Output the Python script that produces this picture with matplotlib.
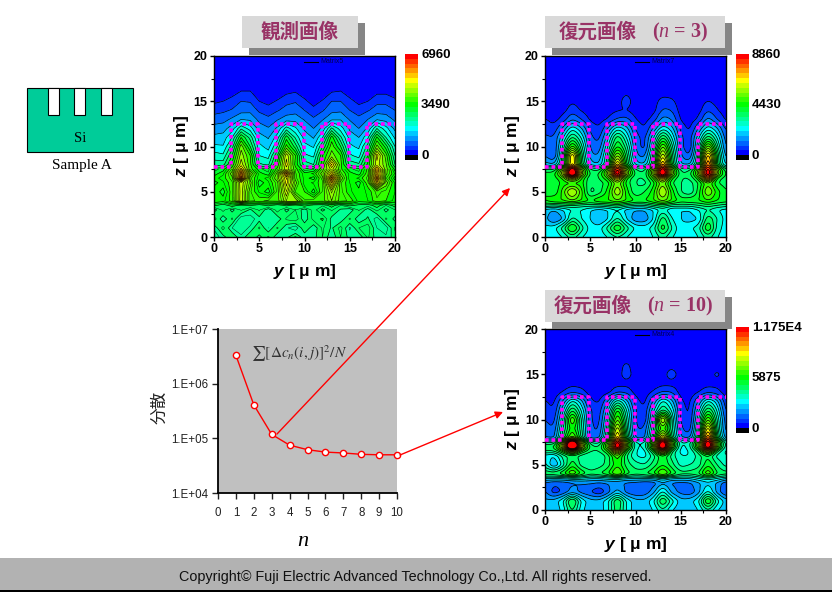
import numpy as np
import matplotlib
matplotlib.use('Agg')
import matplotlib.pyplot as plt
from matplotlib.colors import ListedColormap, BoundaryNorm
from matplotlib.patches import Rectangle

plt.rcParams['font.family'] = ['Liberation Sans', 'DejaVu Sans']
plt.rcParams['mathtext.fontset'] = 'custom'
plt.rcParams['mathtext.bfit'] = 'Liberation Sans:italic:bold'
plt.rcParams['mathtext.it'] = 'Liberation Serif:italic'
plt.rcParams['mathtext.rm'] = 'Liberation Serif'

W, H = 832, 592

# grid of the maps, values below are colour bands (0 black .. 21 red)
y_grid = list(range(21))
z_grid = [20, 17, 16, 15, 14, 13, 12, 11, 10, 9, 8, 7.5, 7, 6.5, 6, 5, 4, 3.5, 3, 2, 1, 0]

observed = [
    [1.1, 1.2, 1.1, 1.2, 1.1, 1.2, 1.1, 1.2, 1.1, 1.2, 1.1, 1.2, 1.1, 1.2, 1.1, 1.2, 1.1, 1.2, 1.1, 1.2, 1.1],
    [1.1, 1.1, 1.2, 1.3, 1.3, 1.1, 1.1, 1.1, 1.2, 1.2, 1.1, 1.1, 1.1, 1.2, 1.3, 1.1, 1.1, 1.1, 1.2, 1.2, 1.1],
    [1.1, 1.2, 1.6, 2.1, 2.1, 1.4, 1.2, 1.4, 1.8, 2.0, 1.5, 1.2, 1.4, 2.0, 2.1, 1.5, 1.2, 1.3, 1.8, 1.8, 1.4],
    [1.8, 2.0, 2.4, 3.0, 2.9, 2.0, 1.7, 2.1, 2.7, 2.9, 2.2, 1.6, 2.1, 3.0, 3.0, 2.3, 1.7, 2.0, 2.7, 2.7, 2.3],
    [2.6, 2.8, 3.1, 3.6, 3.7, 2.8, 2.4, 2.9, 3.4, 3.6, 3.0, 2.3, 2.9, 3.7, 3.8, 3.0, 2.5, 2.9, 3.5, 3.5, 3.0],
    [3.5, 3.6, 4.2, 5.0, 4.8, 3.7, 3.3, 3.9, 4.5, 4.6, 3.9, 3.2, 3.9, 4.8, 4.9, 3.9, 3.3, 4.0, 4.9, 4.6, 3.8],
    [4.4, 4.6, 5.5, 7.8, 6.5, 4.5, 4.1, 5.2, 7.5, 6.2, 4.8, 4.0, 5.3, 8.2, 6.5, 4.8, 4.0, 5.2, 8.0, 6.4, 4.7],
    [5.3, 5.4, 7.0, 11.0, 8.6, 5.5, 4.9, 6.5, 10.6, 7.8, 5.6, 4.9, 7.0, 11.5, 8.2, 5.6, 5.0, 6.8, 11.2, 8.0, 5.8],
    [6.2, 6.1, 8.5, 13.6, 10.0, 6.3, 5.6, 8.0, 12.4, 9.5, 6.3, 5.9, 9.0, 12.6, 10.0, 6.2, 5.8, 8.5, 13.4, 10.5, 7.0],
    [7.5, 7.2, 10.0, 14.6, 12.0, 7.0, 6.6, 10.0, 15.7, 12.0, 7.2, 6.8, 11.0, 13.5, 12.0, 7.2, 6.6, 10.0, 16.5, 12.5, 8.0],
    [8.5, 8.6, 11.3, 15.6, 12.3, 8.2, 7.8, 11.3, 16.5, 11.6, 8.5, 8.0, 11.7, 17.2, 12.3, 8.6, 8.2, 11.3, 15.6, 13.2, 9.0],
    [10.3, 10.7, 12.6, 17.4, 12.4, 10.6, 10.3, 12.3, 15.6, 12.4, 10.2, 10.4, 12.7, 15.4, 12.2, 10.6, 10.3, 12.2, 18.0, 13.4, 10.7],
    [10.7, 11.4, 13.4, 18.6, 13.6, 11.3, 10.6, 13.3, 18.2, 12.6, 11.2, 11.6, 13.4, 16.5, 12.7, 11.3, 10.7, 12.4, 17.4, 13.2, 11.4],
    [11.3, 11.7, 12.8, 19.4, 12.7, 11.2, 11.7, 13.6, 16.6, 12.7, 11.3, 10.7, 12.8, 18.5, 13.6, 11.2, 11.6, 12.7, 18.4, 12.6, 10.7],
    [10.7, 11.4, 12.4, 15.5, 13.3, 10.6, 11.4, 12.8, 16.3, 13.3, 11.2, 11.6, 12.4, 17.0, 12.6, 11.5, 10.7, 12.4, 17.0, 13.4, 11.4],
    [11.5, 10.7, 12.4, 15.4, 12.6, 11.4, 10.7, 12.7, 15.5, 12.4, 12.0, 10.7, 12.6, 14.6, 12.7, 11.6, 11.2, 11.6, 12.7, 12.3, 11.5],
    [11.5, 11.3, 12.3, 15.5, 12.6, 12.4, 12.6, 12.7, 14.5, 14.5, 12.6, 12.8, 12.7, 14.0, 12.7, 12.4, 11.3, 11.5, 12.4, 12.0, 11.3],
    [10.2, 9.6, 10.4, 9.8, 10.1, 9.6, 10.2, 9.6, 10.2, 9.7, 10.3, 9.7, 9.6, 10.3, 9.5, 10.2, 9.8, 9.7, 10.3, 9.5, 10.3],
    [8.7, 9.7, 8.8, 9.6, 8.9, 9.6, 8.6, 9.8, 8.8, 9.5, 8.7, 9.8, 8.8, 9.6, 8.9, 8.6, 9.6, 8.7, 9.7, 8.8, 9.5],
    [9.8, 8.6, 9.6, 8.1, 8.2, 8.8, 8.6, 8.6, 9.6, 9.9, 8.6, 9.7, 10.1, 8.8, 8.6, 9.6, 8.6, 9.1, 8.2, 9.6, 8.8],
    [8.6, 9.7, 8.5, 8.2, 8.6, 9.6, 8.5, 9.6, 8.6, 8.1, 9.5, 8.6, 9.6, 8.9, 9.7, 8.4, 9.5, 9.8, 8.5, 8.2, 9.6],
    [8.1, 8.8, 9.5, 8.6, 9.5, 8.8, 9.6, 8.6, 8.8, 9.6, 8.6, 8.8, 9.5, 8.6, 9.5, 8.8, 8.6, 9.6, 8.7, 8.6, 9.3],
]

restored_3 = [
    [1.2] * 21,
    [1.2] * 21,
    [1.3, 1.3, 1.3, 1.3, 1.3, 1.3, 1.3, 1.3, 1.4, 1.9, 1.3, 1.3, 1.3, 1.5, 1.4, 1.3, 1.3, 1.3, 1.4, 1.3, 1.3],
    [1.3, 1.3, 1.3, 1.9, 1.5, 1.3, 1.3, 1.3, 1.5, 2.6, 1.4, 1.3, 1.5, 2.5, 2.3, 1.3, 1.3, 1.4, 2.1, 1.6, 1.3],
    [1.4, 1.4, 1.6, 2.6, 1.9, 1.4, 1.3, 1.5, 1.9, 2.0, 1.5, 1.4, 1.6, 3.2, 3.0, 1.5, 1.3, 1.6, 3.0, 2.1, 1.4],
    [2.1, 1.6, 2.4, 4.0, 3.0, 1.8, 1.6, 2.1, 3.2, 3.4, 2.0, 1.6, 2.4, 4.5, 4.0, 1.8, 1.5, 2.2, 4.5, 3.0, 1.8],
    [2.6, 2.3, 4.2, 6.8, 5.2, 2.6, 2.0, 4.2, 6.8, 5.5, 2.8, 1.9, 4.2, 6.8, 5.5, 2.6, 1.7, 4.2, 6.8, 5.2, 2.6],
    [3.2, 3.0, 5.8, 9.5, 7.0, 3.2, 2.6, 5.8, 10.0, 7.0, 3.5, 2.5, 5.8, 10.5, 7.0, 3.2, 2.3, 5.8, 10.0, 7.0, 3.2],
    [3.8, 2.8, 7.2, 13.0, 8.5, 3.6, 3.2, 7.2, 11.5, 8.5, 3.8, 2.4, 7.2, 14.0, 8.5, 3.4, 1.9, 7.2, 14.5, 8.5, 3.5],
    [4.0, 2.6, 8.5, 18.5, 9.5, 4.2, 4.0, 8.5, 15.0, 9.5, 4.3, 3.5, 8.5, 17.0, 9.5, 4.0, 2.8, 8.5, 19.0, 10.0, 4.2],
    [5.5, 5.0, 9.0, 18.5, 10.0, 5.5, 5.0, 9.0, 19.0, 10.0, 5.5, 5.0, 9.0, 20.0, 10.0, 5.0, 4.8, 9.0, 21.0, 10.0, 5.5],
    [9.0, 9.0, 13.5, 24.0, 14.0, 9.0, 8.5, 13.0, 22.5, 13.5, 9.0, 8.5, 13.5, 23.5, 13.5, 8.5, 8.5, 13.0, 23.0, 13.5, 9.0],
    [10.5, 10.5, 15.0, 26.0, 15.0, 9.5, 10.0, 14.5, 24.0, 14.5, 9.5, 9.0, 14.5, 25.0, 14.0, 9.0, 9.5, 14.0, 24.0, 14.0, 9.5],
    [10.0, 10.5, 12.0, 17.0, 12.0, 9.0, 10.0, 12.0, 18.0, 11.0, 9.0, 9.0, 12.0, 18.0, 11.0, 9.0, 9.0, 11.5, 20.0, 10.5, 9.5],
    [10.0, 10.0, 11.5, 11.5, 11.5, 9.0, 9.5, 10.5, 14.0, 10.5, 9.0, 8.5, 10.5, 14.0, 10.0, 9.0, 8.5, 10.0, 13.0, 10.0, 9.5],
    [11.0, 10.0, 12.5, 16.0, 12.5, 8.5, 9.5, 11.5, 15.5, 11.5, 9.0, 10.0, 11.5, 16.0, 11.5, 9.0, 8.0, 10.5, 14.5, 11.5, 10.0],
    [11.0, 12.0, 12.0, 13.0, 12.0, 11.0, 12.0, 12.0, 13.0, 12.0, 11.0, 11.0, 12.0, 13.5, 12.0, 10.5, 11.0, 11.0, 12.0, 11.0, 10.5],
    [9.0, 8.5, 9.0, 9.0, 8.5, 8.5, 8.5, 9.0, 9.5, 8.5, 8.0, 8.0, 9.0, 9.5, 8.5, 8.5, 8.5, 9.0, 9.5, 9.0, 8.5],
    [5.5, 5.0, 6.0, 7.0, 7.0, 6.0, 5.5, 6.0, 7.0, 5.5, 5.0, 5.0, 6.0, 7.5, 6.0, 6.0, 6.0, 7.0, 8.0, 7.0, 6.5],
    [5.5, 3.6, 5.0, 8.5, 7.0, 6.0, 4.6, 6.0, 8.5, 6.0, 4.2, 4.2, 6.0, 10.0, 7.0, 6.0, 5.5, 6.0, 10.0, 8.0, 6.5],
    [6.3, 6.6, 8.5, 12.0, 8.5, 6.5, 6.5, 8.5, 11.5, 8.5, 6.8, 6.5, 7.5, 11.0, 8.0, 6.2, 6.8, 7.5, 11.5, 7.5, 6.5],
    [6.2, 6.3, 7.0, 8.5, 7.0, 6.4, 6.4, 7.0, 8.0, 7.0, 6.0, 6.2, 7.0, 8.5, 7.0, 6.4, 6.3, 7.0, 8.5, 7.0, 6.4],
]

restored_10 = [
    [1.2] * 21,
    [1.2] * 21,
    [1.2, 1.2, 1.2, 1.2, 1.2, 1.2, 1.2, 1.2, 1.3, 2.4, 1.2, 1.2, 1.2, 1.3, 1.6, 1.2, 1.2, 1.2, 1.2, 1.3, 1.2],
    [1.2, 1.2, 1.2, 1.2, 1.2, 1.2, 1.2, 1.2, 1.3, 2.8, 1.3, 1.2, 1.2, 1.4, 2.8, 1.3, 1.2, 1.2, 1.3, 2.4, 1.2],
    [1.3, 1.3, 1.3, 1.6, 1.5, 1.3, 1.3, 1.3, 1.5, 1.6, 1.3, 1.3, 1.3, 1.6, 1.6, 1.3, 1.3, 1.3, 1.5, 1.5, 1.3],
    [1.4, 1.4, 2.1, 2.9, 2.5, 1.5, 1.4, 1.7, 3.0, 2.8, 1.6, 1.4, 2.2, 3.2, 3.0, 1.5, 1.4, 2.0, 2.9, 2.5, 1.4],
    [2.1, 1.7, 4.2, 7.5, 5.5, 2.2, 1.8, 4.2, 8.0, 5.5, 2.4, 1.6, 4.2, 7.5, 5.5, 2.1, 1.7, 4.2, 7.5, 5.5, 2.1],
    [2.4, 2.0, 5.8, 10.5, 7.0, 3.0, 2.3, 5.8, 12.0, 7.0, 3.0, 2.0, 5.8, 9.5, 7.0, 2.5, 1.7, 5.8, 10.5, 7.0, 2.5],
    [3.0, 2.4, 7.0, 14.0, 8.0, 3.0, 2.5, 7.0, 14.0, 8.0, 2.8, 2.0, 7.0, 17.0, 8.0, 2.5, 1.8, 7.0, 14.0, 8.0, 3.0],
    [3.5, 3.0, 8.0, 12.0, 8.5, 3.2, 2.8, 8.0, 17.0, 8.5, 3.0, 3.0, 8.0, 13.0, 8.5, 3.2, 2.2, 8.0, 18.0, 8.5, 3.2],
    [4.0, 3.5, 9.0, 14.0, 9.0, 3.0, 3.5, 9.0, 19.0, 9.5, 3.5, 3.5, 9.0, 18.0, 9.0, 4.0, 3.5, 9.0, 21.0, 9.5, 4.0],
    [8.0, 8.0, 14.0, 26.0, 14.5, 8.0, 7.5, 13.0, 23.0, 13.5, 7.0, 7.0, 13.0, 24.0, 13.0, 7.0, 7.5, 13.0, 24.0, 13.5, 7.0],
    [10.0, 10.0, 16.0, 29.0, 16.0, 9.5, 9.0, 14.0, 24.5, 14.0, 7.0, 7.0, 14.0, 26.0, 13.0, 6.5, 7.5, 13.5, 25.0, 13.5, 7.0],
    [9.0, 9.0, 11.0, 16.0, 11.0, 9.0, 9.0, 11.0, 18.0, 10.0, 7.0, 6.5, 10.0, 18.0, 9.0, 6.5, 7.0, 9.5, 16.0, 9.0, 6.5],
    [6.5, 6.0, 8.5, 9.5, 8.5, 8.0, 8.0, 9.5, 13.0, 9.0, 7.0, 6.5, 8.5, 11.0, 8.5, 7.0, 7.0, 8.5, 10.0, 7.5, 7.0],
    [7.5, 4.6, 7.5, 11.0, 8.5, 8.0, 8.5, 9.5, 12.0, 9.5, 8.5, 8.0, 9.5, 11.0, 9.5, 7.5, 8.0, 8.5, 11.0, 9.0, 7.5],
    [10.0, 10.0, 11.0, 13.5, 11.0, 9.5, 10.0, 11.0, 14.0, 10.5, 9.5, 10.0, 11.0, 14.0, 11.0, 9.5, 9.5, 10.0, 13.5, 10.0, 9.5],
    [6.0, 6.0, 6.0, 6.5, 6.5, 6.0, 6.0, 6.5, 6.5, 6.0, 6.0, 6.0, 6.0, 7.0, 6.0, 6.0, 6.0, 7.0, 7.5, 7.0, 6.0],
    [3.8, 3.2, 3.4, 3.8, 4.1, 4.1, 3.8, 4.1, 4.3, 3.8, 3.6, 3.2, 3.4, 4.8, 3.8, 3.6, 3.8, 4.8, 5.8, 4.8, 3.2],
    [4.2, 2.4, 3.2, 4.6, 3.6, 3.0, 2.1, 3.6, 5.6, 3.6, 3.0, 3.2, 4.6, 7.5, 4.6, 3.6, 3.2, 4.6, 7.5, 4.6, 2.8],
    [5.3, 5.4, 6.8, 11.0, 6.8, 5.4, 5.4, 6.8, 10.5, 6.8, 5.4, 5.3, 6.8, 10.5, 7.5, 5.4, 5.6, 6.8, 12.0, 7.5, 5.4],
    [5.3, 5.3, 6.3, 9.5, 6.3, 5.3, 5.3, 6.8, 10.0, 6.8, 5.3, 5.3, 6.0, 8.0, 6.0, 5.3, 5.3, 6.0, 8.0, 6.0, 5.3],
]

# colour scale, bottom band to top band
band_colors = ['#000000', '#0000ff', '#0032ff', '#0064ff', '#0096ff', '#00c8ff', '#00ffff', '#00ffc8',
               '#00ff96', '#00ff64', '#00ff32', '#00ff00', '#32ff00', '#64ff00', '#96ff00', '#c8ff00',
               '#ffff00', '#ffc800', '#ff9600', '#ff6400', '#ff3200', '#ff0000']

scale_labels = [['6960', '3490', '0'], ['8860', '4430', '0'], ['1.175E4', '5875', '0']]
scale_max = [6960, 8860, 11750]
matrix_names = ['Matrix5', 'Matrix7', 'Matrix4']

# mask outline of the trenches
trench_y = [0, 1.9, 1.9, 4.9, 4.9, 6.9, 6.9, 9.9, 9.9, 11.9, 11.9, 14.9, 14.9, 16.9, 16.9, 20]
trench_z = [7.7, 7.7, 12.5, 12.5, 7.7, 7.7, 12.5, 12.5, 7.7, 7.7, 12.5, 12.5, 7.7, 7.7, 12.5, 12.5]

# variance curve
n_values = [1, 2, 3, 4, 5, 6, 7, 8, 9, 10]
variance = [3.3e6, 4.1e5, 1.18e5, 7.5e4, 6.2e4, 5.6e4, 5.4e4, 5.1e4, 5.0e4, 5.0e4]
variance_ticks = [1e4, 1e5, 1e6, 1e7]
variance_labels = ['1.E+04', '1.E+05', '1.E+06', '1.E+07']


def px_axes(x0, y0, x1, y1, **kw):
    return fig.add_axes([x0 / W, 1 - y1 / H, (x1 - x0) / W, (y1 - y0) / H], **kw)


def box_blur(a, width, axis):
    kernel = np.ones(width) / width
    pad = [(0, 0), (0, 0)]
    pad[axis] = (width, width)
    padded = np.pad(a, pad, mode='edge')
    out = np.apply_along_axis(lambda m: np.convolve(m, kernel, mode='same'), axis, padded)
    return np.take(out, range(width, width + a.shape[axis]), axis=axis)


def fine_field(bands):
    # the contouring package of the original draws rounded lines, so resample and soften a bit
    ys = np.arange(0, 20.01, 0.125)
    zs = np.arange(0, 20.01, 0.125)
    rows = np.array(bands, dtype=float)[::-1]
    zup = np.array(z_grid[::-1])
    f = np.array([np.interp(ys, y_grid, r) for r in rows])
    f = np.array([np.interp(zs, zup, f[:, j]) for j in range(len(ys))]).T
    for _ in range(2):
        f = box_blur(f, 5, 1)
        f = box_blur(f, 3, 0)
    return ys, zs, f


def draw_map(x0, y0, bands, vmax, name, labels, smooth):
    ax = px_axes(x0, y0, x0 + 181, y0 + 181)
    unit = vmax / 22
    levels = np.arange(23) * unit
    cmap = ListedColormap(band_colors)
    norm = BoundaryNorm(levels, cmap.N)
    if smooth:
        ys, zs, f = fine_field(bands)
    else:
        ys, zs, f = np.array(y_grid), np.array(z_grid[::-1]), np.array(bands, dtype=float)[::-1]
    v = np.clip(f * unit, unit * 1.01, vmax * 0.999)
    ax.contourf(ys, zs, v, levels=levels, cmap=cmap, norm=norm)
    if smooth:
        ax.contour(ys, zs, v, levels=levels[2:], colors='k', linewidths=0.55)
    else:
        # the measured map is noisy, it has extra fine lines in the lower part
        ax.contour(ys, zs, v, levels=levels[2:], colors='k', linewidths=0.45)
        low = np.ma.masked_where(np.meshgrid(ys, zs)[1] > 7.5, v)
        ax.contour(ys, zs, low, levels=levels[2:] - unit / 2, colors='k', linewidths=0.3)
    ax.plot(trench_y, trench_z, color='#ff00ff', lw=2.6, ls=(0, (1, 0.8)), clip_on=False, zorder=5)
    ax.plot([9.9, 11.5], [19.35, 19.35], color='k', lw=0.8)
    ax.text(11.8, 19.35, name, fontsize=5, color='#000050', va='center')
    ax.set_xlim(0, 20)
    ax.set_ylim(0, 20)
    ax.set_xticks([0, 5, 10, 15, 20])
    ax.set_yticks([0, 5, 10, 15, 20])
    ax.set_xticks([2.5, 7.5, 12.5, 17.5], minor=True)
    ax.set_yticks([2.5, 7.5, 12.5, 17.5], minor=True)
    ax.tick_params(which='major', length=3, width=1, labelsize=9, pad=1.5)
    ax.tick_params(which='minor', length=2, width=0.8)
    for lab in ax.get_xticklabels() + ax.get_yticklabels():
        lab.set_fontweight('bold')
    for s in ax.spines.values():
        s.set_linewidth(1)
    ax.set_xlabel(r'$\mathbfit{y}$ [ μ m]', fontsize=12.5, fontweight='bold')
    ax.set_ylabel(r'$\mathbfit{z}$ [ μ m]', fontsize=12.5, fontweight='bold')
    ax.xaxis.set_label_coords(0.5, -0.14)
    ax.yaxis.set_label_coords(-0.125, 0.5)

    # colour scale next to the map
    top = y0 - 2
    cb = px_axes(x0 + 191, top, x0 + 204, top + 106)
    cb.pcolormesh([0, 1], levels, np.arange(22).reshape(-1, 1), cmap=cmap, vmin=-0.5, vmax=21.5)
    cb.axis('off')
    for lab, yy in zip(labels, [top + 1, top + 51, top + 102]):
        overlay.text(x0 + 207, yy, lab, fontsize=9.5, fontweight='bold', va='center', ha='left')


def title_box(x0, y0, x1, y1):
    overlay.add_patch(Rectangle((x0 + 7, y0 + 7), x1 - x0, y1 - y0, fc='#868686', ec='none', zorder=1))
    overlay.add_patch(Rectangle((x0, y0), x1 - x0, y1 - y0, fc='#d9d9d9', ec='none', zorder=2))


fig = plt.figure(figsize=(W / 100, H / 100), dpi=100)
overlay = px_axes(0, 0, W, H, zorder=10)
overlay.set_xlim(0, W)
overlay.set_ylim(H, 0)
overlay.axis('off')
overlay.patch.set_alpha(0)

draw_map(214, 56, observed, scale_max[0], matrix_names[0], scale_labels[0], False)
draw_map(545, 56, restored_3, scale_max[1], matrix_names[1], scale_labels[1], True)
draw_map(545, 329, restored_10, scale_max[2], matrix_names[2], scale_labels[2], True)

# variance plot
ax = px_axes(218, 329, 397, 493)
ax.set_facecolor('#c0c0c0')
ax.semilogy(n_values, variance, color='#ff0000', lw=1, marker='o', ms=4.5, mfc='white', mec='#ff0000', mew=1, clip_on=False, zorder=5)
ax.set_xlim(0, 10)
ax.set_ylim(1e4, 1e7)
ax.set_xticks(range(11))
ax.set_yticks(variance_ticks)
ax.set_yticklabels(variance_labels)
ax.minorticks_off()
ax.tick_params(labelsize=8.3, length=4, width=1, colors='#222222', pad=3)
ax.tick_params(axis='x', pad=6)
ax.spines['top'].set_visible(False)
ax.spines['right'].set_visible(False)
ax.spines['left'].set_linewidth(1.3)
ax.spines['bottom'].set_linewidth(1.3)
ax.text(0.185, 0.85, r'$\sum[\Delta c_n(i,j)]^2/N$', transform=ax.transAxes, fontsize=11,
        color='#333333', va='center', math_fontfamily='stix')

overlay.text(160, 407, '分散', family=['Noto Sans CJK JP', 'DejaVu Sans'], fontsize=12, rotation=90,
             ha='center', va='center', color='#222222')
overlay.text(303, 542, 'n', family='Liberation Serif', style='italic', fontsize=16, ha='center', va='center')

# sample sketch
overlay.add_patch(Rectangle((27, 88), 106, 64, fc='#00cc99', ec='k', lw=0.8))
for sx in [48, 74, 100.5]:
    overlay.add_patch(Rectangle((sx, 88), 11, 27, fc='white', ec='k', lw=0.8))
overlay.text(80, 139, 'Si', family='Liberation Serif', fontsize=10.5, ha='center', va='center')
overlay.text(82, 166, 'Sample A', family='Liberation Serif', fontsize=11, ha='center', va='center')

# headings
heading_color = '#993366'
cjk = ['Noto Sans CJK JP', 'DejaVu Sans']
title_box(242, 16, 358, 48)
overlay.text(300, 32, '観測画像', family=cjk, fontsize=14, fontweight='bold', color=heading_color, ha='center', va='center', zorder=3)
title_box(545, 16, 725, 48)
overlay.text(598, 32, '復元画像', family=cjk, fontsize=14, fontweight='bold', color=heading_color, ha='center', va='center', zorder=3)
overlay.text(680, 32, r'($\mathit{n}$ = 3)', family='Liberation Serif', fontsize=14.5, fontweight='bold', color=heading_color, ha='center', va='center', zorder=3)
title_box(545, 290, 725, 322)
overlay.text(593, 306, '復元画像', family=cjk, fontsize=14, fontweight='bold', color=heading_color, ha='center', va='center', zorder=3)
overlay.text(680, 306, r'($\mathit{n}$ = 10)', family='Liberation Serif', fontsize=14.5, fontweight='bold', color=heading_color, ha='center', va='center', zorder=3)

# arrows from the curve to the restored maps
arrow_style = dict(arrowstyle='-|>', color='#ff0000', lw=1, mutation_scale=11, shrinkA=0, shrinkB=0)
overlay.annotate('', xy=(510, 188), xytext=(277, 434), arrowprops=arrow_style)
overlay.annotate('', xy=(503, 412), xytext=(400, 455), arrowprops=arrow_style)

# footer
overlay.add_patch(Rectangle((0, 558), W, 32, fc='#b2b2b2', ec='none'))
overlay.add_patch(Rectangle((0, 590), W, 2, fc='black', ec='none'))
overlay.text(415, 577.5, 'Copyright© Fuji Electric Advanced Technology Co.,Ltd. All rights reserved.',
             fontsize=10.4, ha='center', va='center', color='#111111')

fig.savefig('out.png', dpi=100)
